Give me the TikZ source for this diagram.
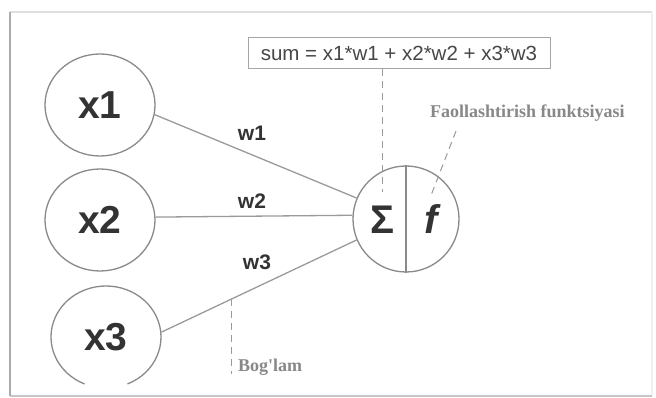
\documentclass[tikz,border=0pt]{standalone}
\usepackage{fontspec}
\setmainfont{Liberation Sans}
\newfontfamily\notefont{Liberation Serif}
\usetikzlibrary{shapes.geometric,calc}

\definecolor{rim}{HTML}{8A8A8A}
\definecolor{wire}{HTML}{9A9A9A}
\definecolor{ink}{HTML}{333333}
\definecolor{note}{HTML}{888888}

\tikzset{
  inputnode/.style={ellipse, minimum width=110pt, minimum height=102pt, inner sep=0pt,
    draw=rim, line width=1.3pt, text=ink, font=\bfseries\fontsize{39}{39}\selectfont},
  wirestyle/.style={draw=wire, line width=1.3pt},
  weight/.style={text=ink, font=\bfseries\fontsize{21}{21}\selectfont},
  guide/.style={draw=wire, line width=1pt, dash pattern=on 7pt off 5pt},
  remark/.style={text=note, font=\notefont\bfseries\fontsize{18}{18}\selectfont, inner sep=0pt}
}

\begin{document}
\begin{tikzpicture}[x=1pt, y=-1pt]
  \useasboundingbox (0,0) rectangle (656,398);
  \fill[white] (0,0) rectangle (656,398);

  % panel frame
  \draw[gray!25, line width=1.5pt] (10,12) -- (652,12);
  \draw[gray!12, line width=1.2pt] (652,12) -- (652,396);
  \draw[gray!45, line width=1.5pt] (10,396) -- (652,396);
  \draw[gray!65, line width=1.8pt] (10,12) -- (10,396);

  % inputs
  \node[inputnode] (x1) at (100,105) {x1};
  \node[inputnode] (x2) at (100,220) {x2};
  \node[inputnode, draw=none] (x3) at (106,337) {x3};
  % the third input ring runs off the bottom of the panel
  \draw[rim, line width=1.3pt]
    ($(x3.center)+(-67:55pt and 51pt)$) arc[start angle=-67, end angle=247, x radius=55pt, y radius=51pt];

  % neuron
  \node[circle, minimum size=106pt, inner sep=0pt, draw=rim, line width=1.3pt] (n) at (406,219) {};
  \draw[rim, line width=1.3pt] (n.north) -- (n.south);
  \node[text=ink, font=\bfseries\fontsize{40}{40}\selectfont, inner sep=0pt] (sigma) at (382,220) {Σ};
  \node[text=ink, font=\bfseries\itshape\fontsize{40}{40}\selectfont, inner sep=0pt] (f) at (431,219) {f};

  % connections
  \draw[wirestyle] (x1.-10) -- (n.157);
  \draw[wirestyle] (x2.3) -- (n.176);
  \draw[wirestyle] (x3.5) -- coordinate[pos=0.36] (link) (n.-157);

  \node[weight] (w1) at (252,133) {w1};
  \node[weight] (w2) at (252,201) {w2};
  \node[weight] (w3) at (257,262) {w3};

  % summation formula
  \node[draw=gray!70, line width=1pt, minimum width=302pt, minimum height=31pt, inner sep=0pt,
        text=ink!90, font=\fontsize{20.5}{20.5}\selectfont] (sum) at (399,53) {sum = x1*w1 + x2*w2 + x3*w3};
  \coordinate (sumend) at (382,192);
  \draw[guide] (sum.south -| sumend) -- (sumend);

  % activation note
  \node[remark, anchor=west] (act) at (430,113) {Faollashtirish funktsiyasi};
  \coordinate (actstart) at (456,131);
  \coordinate (actend) at (430,198);
  \draw[guide] (actstart) -- (actend);

  % connection note
  \coordinate (linkend) at ($(link)+(0,75)$);
  \draw[guide] (link) -- (linkend);
  \node[remark, anchor=west] (bog) at (238,367) {Bog'lam};
\end{tikzpicture}
\end{document}
